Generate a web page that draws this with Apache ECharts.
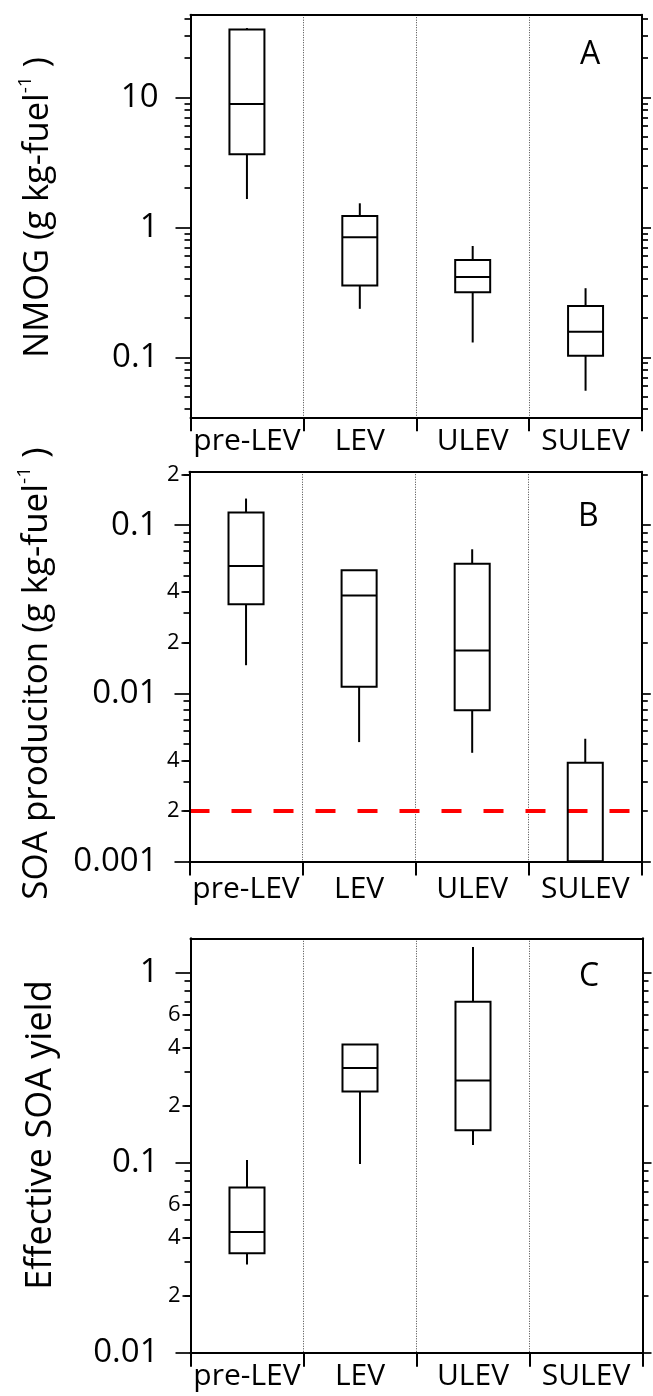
<!DOCTYPE html>
<html>
<head>
<meta charset="utf-8">
<script src="https://cdn.jsdelivr.net/npm/echarts@6.0.0/dist/echarts.min.js"></script>
<style>
html, body { margin: 0; padding: 0; background: #fff; }
#chart { width: 653px; height: 1396px; }
</style>
</head>
<body>
<div id="chart"></div>
<script>
var categories = ['pre-LEV', 'LEV', 'ULEV', 'SULEV'];

// each row: [low whisker, Q1, median, Q3, high whisker]
var nmogStats = [
    [1.65, 3.65, 8.9, 33.3, 34.1],
    [0.236, 0.356, 0.84, 1.22, 1.53],
    [0.130, 0.316, 0.415, 0.56, 0.718],
    [0.0553, 0.103, 0.157, 0.248, 0.34]
];
var soaStats = [
    [0.0147, 0.0339, 0.0571, 0.119, 0.144],
    [0.00513, 0.01094, 0.0382, 0.0539, 0.0539],
    [0.00443, 0.00794, 0.01795, 0.059, 0.0719],
    [0.001, 0.001, 0.001, 0.00387, 0.00537]
];
var yieldStats = [
    [0.0291, 0.0333, 0.0431, 0.0739, 0.103],
    [0.0982, 0.236, 0.314, 0.417, 0.417],
    [0.1236, 0.148, 0.270, 0.70, 1.36]
];
var soaDetectionLimit = 0.002;

var majorTicksA = [0.1, 1, 10];
var minorTicksA = [0.04, 0.05, 0.06, 0.07, 0.08, 0.09, 0.2, 0.3, 0.4, 0.5, 0.6, 0.7, 0.8, 0.9,
    2, 3, 4, 5, 6, 7, 8, 9, 20, 30, 40];
var labeledMinorA = [];

var majorTicksB = [0.001, 0.01, 0.1];
var minorTicksB = [0.002, 0.003, 0.004, 0.005, 0.006, 0.007, 0.008, 0.009,
    0.02, 0.03, 0.04, 0.05, 0.06, 0.07, 0.08, 0.09, 0.2];
var labeledMinorB = [0.002, 0.004, 0.02, 0.04, 0.2];

var majorTicksC = [0.01, 0.1, 1];
var minorTicksC = [0.02, 0.03, 0.04, 0.05, 0.06, 0.07, 0.08, 0.09,
    0.2, 0.3, 0.4, 0.5, 0.6, 0.7, 0.8, 0.9];
var labeledMinorC = [0.02, 0.04, 0.06, 0.2, 0.4, 0.6];

var FONT = "'Open Sans', sans-serif";

var panels = [
    {
        grid: { left: 190.5, top: 14.7, width: 451.5, height: 402.6 },
        min: 0.03455, max: 43.2,
        major: majorTicksA, minor: minorTicksA, labeled: labeledMinorA,
        name: '{t|NMOG (g kg-fuel}{s|-1}{t| )}', nameSize: 34.5, nameGap: 130, namePad: [0, 0, 0, 17], catMargin: 9,
        letter: 'A', letterLeft: 580, letterTop: 39, stats: nmogStats
    },
    {
        grid: { left: 189.5, top: 471.7, width: 452.3, height: 389.8 },
        min: 0.001, max: 0.208,
        major: majorTicksB, minor: minorTicksB, labeled: labeledMinorB,
        name: '{t|SOA produciton (g kg-fuel}{s|-1}{t| )}', nameSize: 35, nameGap: 130, namePad: [0, 14, 0, 0], catMargin: 13,
        letter: 'B', letterLeft: 578, letterTop: 501, stats: soaStats
    },
    {
        grid: { left: 190.5, top: 938.3, width: 452, height: 414.4 },
        min: 0.01, max: 1.51,
        major: majorTicksC, minor: minorTicksC, labeled: labeledMinorC,
        name: '{t|Effective SOA yield}', nameSize: 36, nameGap: 128, namePad: [0, 0, 0, 21], catMargin: 9,
        letter: 'C', letterLeft: 579, letterTop: 961, stats: yieldStats
    }
];

function firstDigit(v) {
    var p = Math.pow(10, Math.floor(Math.log10(v) + 1e-9));
    return String(Math.round(v / p));
}

function renderBox(params, api) {
    var x = api.value(0);
    var lo = api.coord([x, api.value(1)]);
    var q1 = api.coord([x, api.value(2)]);
    var md = api.coord([x, api.value(3)]);
    var q3 = api.coord([x, api.value(4)]);
    var hi = api.coord([x, api.value(5)]);
    var half = api.size([1, 1])[0] * 0.155;
    var cx = lo[0];
    var st = { stroke: '#000', lineWidth: 2, fill: null };
    return {
        type: 'group',
        children: [
            { type: 'line', shape: { x1: cx, y1: hi[1], x2: cx, y2: q3[1] }, style: st },
            { type: 'line', shape: { x1: cx, y1: q1[1], x2: cx, y2: lo[1] }, style: st },
            { type: 'rect', shape: { x: cx - half, y: q3[1], width: half * 2, height: q1[1] - q3[1] }, style: st },
            { type: 'line', shape: { x1: cx - half, y1: md[1], x2: cx + half, y2: md[1] }, style: st }
        ]
    };
}

// horizontal dashed limit across the whole plot area
function renderLimit(params, api) {
    var cs = params.coordSys;
    var y = api.coord([0, api.value(1)])[1];
    return {
        type: 'line',
        shape: { x1: cs.x, y1: y, x2: cs.x + cs.width, y2: y },
        style: { stroke: '#ff0000', lineWidth: 4, lineDash: [20, 22], fill: null }
    };
}

function logAxis(p, i, extra) {
    return Object.assign({
        type: 'log', logBase: 10, gridIndex: i, min: p.min, max: p.max, z: 3,
        splitLine: { show: false },
        axisLine: { show: false, onZero: false },
        axisTick: { show: false },
        axisLabel: { show: false }
    }, extra);
}

var option = { animation: false, grid: [], xAxis: [], yAxis: [], series: [], title: [] };

panels.forEach(function (p, i) {
    option.grid.push(Object.assign({ containLabel: false, outerBoundsMode: 'none' }, p.grid));

    option.xAxis.push({
        type: 'category', gridIndex: i, data: categories, position: 'bottom', boundaryGap: true, z: 1,
        axisLine: { show: true, onZero: false, lineStyle: { color: '#000', width: 2 } },
        axisTick: { show: true, inside: false, length: 14, interval: 0, alignWithLabel: false,
            lineStyle: { color: '#000', width: 2 } },
        axisLabel: { show: true, interval: 0, margin: p.catMargin, fontSize: 30, color: '#000', fontFamily: FONT },
        splitLine: { show: true, interval: 0, lineStyle: { color: '#444', width: 1, type: [1, 1.5] } }
    }, {
        type: 'category', gridIndex: i, data: categories, position: 'top', z: 3,
        axisLine: { show: true, onZero: false, lineStyle: { color: '#000', width: 2 } },
        axisTick: { show: false }, axisLabel: { show: false }, splitLine: { show: false }
    });

    var base = option.yAxis.length;
    var tickStyle = { color: '#000', width: 1.7 };
    option.yAxis.push(
        logAxis(p, i, {
            position: 'left',
            axisLine: { show: true, onZero: false, lineStyle: { color: '#000', width: 2 } },
            axisTick: { show: true, inside: false, length: 15, customValues: p.major, lineStyle: tickStyle },
            axisLabel: { show: true, customValues: p.major, margin: 32, fontSize: 33, color: '#000', fontFamily: FONT,
                formatter: function (v) { return String(v); } },
            name: p.name, nameLocation: 'middle', nameRotate: 90, nameGap: p.nameGap, nameMoveOverlap: false,
            nameTextStyle: {
                color: '#000', fontFamily: FONT, fontSize: p.nameSize, padding: p.namePad,
                rich: {
                    t: { color: '#000', fontFamily: FONT, fontSize: p.nameSize, lineHeight: 44 },
                    s: { color: '#000', fontFamily: FONT, fontSize: 19, lineHeight: 12, verticalAlign: 'top' }
                }
            }
        }),
        logAxis(p, i, {
            position: 'left',
            axisTick: { show: true, inside: false, length: 6, customValues: p.minor, lineStyle: tickStyle }
        }),
        logAxis(p, i, {
            position: 'left',
            axisTick: { show: p.labeled.length > 0, inside: false, length: 8, customValues: p.labeled, lineStyle: tickStyle },
            axisLabel: { show: p.labeled.length > 0, customValues: p.labeled, margin: 10, fontSize: 22, color: '#000',
                fontFamily: FONT, formatter: firstDigit }
        }),
        logAxis(p, i, {
            position: 'right',
            axisLine: { show: true, onZero: false, lineStyle: { color: '#000', width: 2 } },
            axisTick: { show: true, inside: false, length: 9, customValues: p.major, lineStyle: tickStyle }
        }),
        logAxis(p, i, {
            position: 'right',
            axisTick: { show: true, inside: false, length: 6, customValues: p.minor, lineStyle: tickStyle }
        })
    );

    option.series.push({
        type: 'custom', xAxisIndex: i * 2, yAxisIndex: base, z: 4, silent: true,
        renderItem: renderBox,
        encode: { x: 0, y: [1, 2, 3, 4, 5] },
        data: p.stats.map(function (s, k) { return [k].concat(s); })
    });

    option.title.push({
        text: p.letter, left: p.letterLeft, top: p.letterTop, padding: 0,
        textStyle: { fontSize: 32, fontWeight: 'normal', color: '#000', fontFamily: FONT }
    });
});

option.series.push({
    type: 'custom', xAxisIndex: 2, yAxisIndex: 5, z: 3, silent: true,
    renderItem: renderLimit,
    encode: { x: 0, y: 1 },
    data: [[0, soaDetectionLimit]]
});

var myChart = echarts.init(document.getElementById('chart'));
myChart.setOption(option);
</script>
</body>
</html>
